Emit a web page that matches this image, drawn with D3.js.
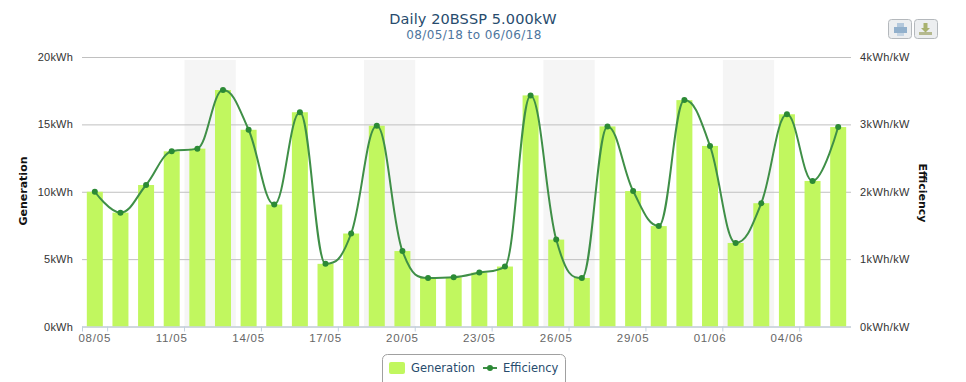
<!DOCTYPE html>
<html>
<head>
<meta charset="utf-8">
<script src="https://cdnjs.cloudflare.com/ajax/libs/d3/7.8.5/d3.min.js"></script>
<style>
  html, body { margin: 0; padding: 0; background: #fff; overflow: hidden; }
  svg { display: block; font-family: "DejaVu Sans", sans-serif; }
  .domain { display: none; }
</style>
</head>
<body>
<svg id="chart" width="966" height="382"></svg>
<script>
const categories = ["08/05","09/05","10/05","11/05","12/05","13/05","14/05","15/05","16/05","17/05",
  "18/05","19/05","20/05","21/05","22/05","23/05","24/05","25/05","26/05","27/05",
  "28/05","29/05","30/05","31/05","01/06","02/06","03/06","04/06","05/06","06/06"];
const generation = [10.0,8.45,10.5,13.0,13.2,17.55,14.6,9.05,15.9,4.65,
  6.9,14.9,5.6,3.6,3.65,4.0,4.45,17.15,6.45,3.6,
  14.85,10.05,7.45,16.8,13.4,6.2,9.15,15.75,10.8,14.8];
const efficiency = [2.0,1.69,2.1,2.6,2.64,3.51,2.92,1.81,3.18,0.93,
  1.38,2.98,1.12,0.72,0.73,0.8,0.89,3.43,1.29,0.72,
  2.97,2.01,1.49,3.36,2.68,1.24,1.83,3.15,2.16,2.96];
const weekendStarts = ["12/05","19/05","26/05","02/06"];
const genTicks = [0,5,10,15,20];
const effTicks = [0,1,2,3,4];

const plotLeft = 82, plotRight = 851, plotTop = 57, plotBottom = 326.5;
const titleColor = "#274b6d", subColor = "#4d759e";
const barColor = "#c1f75f", lineColor = "#3f8f47", markerColor = "#2b8a35";

const svg = d3.select("#chart");

const xScale = d3.scaleBand().domain(categories).range([plotLeft, plotRight]);
const yGen = d3.scaleLinear().domain([0, 20]).range([plotBottom, plotTop]);
const yEff = d3.scaleLinear().domain([0, 4]).range([plotBottom, plotTop]);
const cx = d => xScale(d) + xScale.bandwidth() / 2;

// weekend bands
svg.append("g").selectAll("rect").data(weekendStarts).join("rect")
  .attr("x", d => xScale(d))
  .attr("y", plotTop + 3)
  .attr("width", xScale.step() * 2)
  .attr("height", plotBottom - plotTop - 3)
  .attr("fill", "#f5f5f5");

// left axis + grid
const leftAxis = svg.append("g")
  .attr("transform", `translate(${plotLeft},0)`)
  .call(d3.axisLeft(yGen).tickValues(genTicks).tickSize(-(plotRight - plotLeft)).tickPadding(9).tickFormat(d => d + "kWh"));
leftAxis.selectAll("line").attr("stroke", "#c0c0c0");
leftAxis.selectAll("text").attr("font-size", 11).attr("letter-spacing", "0.2px").attr("fill", "#333");

// right axis
const rightAxis = svg.append("g")
  .attr("transform", `translate(${plotRight},0)`)
  .call(d3.axisRight(yEff).tickValues(effTicks).tickSize(0).tickPadding(9).tickFormat(d => d + "kWh/kW"));
rightAxis.selectAll("text").attr("font-size", 11).attr("letter-spacing", "0.4px").attr("fill", "#333");

// bars
svg.append("g").selectAll("rect").data(generation).join("rect")
  .attr("x", (d, i) => cx(categories[i]) - 8)
  .attr("y", d => yGen(d))
  .attr("width", 16)
  .attr("height", d => plotBottom - yGen(d))
  .attr("fill", barColor);

// x axis, ticks sit on the band edge, labels on the band centre
const xAxis = svg.append("g")
  .attr("transform", `translate(0,${plotBottom})`)
  .call(d3.axisBottom(xScale)
    .tickValues(categories.filter((d, i) => i % 3 === 0))
    .tickSize(5).tickPadding(2));
xAxis.selectAll("line").attr("stroke", "#c0d0e0").attr("x1", xScale.step() / 2).attr("x2", xScale.step() / 2);
xAxis.selectAll("text").attr("font-size", 11.5).attr("letter-spacing", "0.8px").attr("fill", "#666");
svg.append("line")
  .attr("x1", plotLeft).attr("x2", plotRight).attr("y1", plotBottom + 0.5).attr("y2", plotBottom + 0.5)
  .attr("stroke", "#c0d0e0");
svg.append("line")
  .attr("x1", plotLeft + 0.5).attr("x2", plotLeft + 0.5).attr("y1", plotBottom).attr("y2", plotBottom + 5)
  .attr("stroke", "#c0d0e0");

// highcharts style spline: control points clamped so peaks stay on the points
function splineCurve(context) {
  let pts = [];
  return {
    areaStart() {}, areaEnd() {},
    lineStart() { pts = []; },
    point(x, y) { pts.push([+x, +y]); },
    lineEnd() {
      const conts = pts.map((p, i) => {
        if (i === 0 || i === pts.length - 1) return { lx: p[0], ly: p[1], rx: p[0], ry: p[1] };
        const [x, y] = p, [px, py] = pts[i - 1], [nx, ny] = pts[i + 1];
        let ly = y - 0.2 * (ny - py), ry = y + 0.2 * (ny - py);
        if (ly > py && ly > y) { ly = Math.max(py, y); ry = 2 * y - ly; }
        else if (ly < py && ly < y) { ly = Math.min(py, y); ry = 2 * y - ly; }
        if (ry > ny && ry > y) { ry = Math.max(ny, y); ly = 2 * y - ry; }
        else if (ry < ny && ry < y) { ry = Math.min(ny, y); ly = 2 * y - ry; }
        return { lx: x - 0.4 * (x - px), ly, rx: x + 0.4 * (nx - x), ry };
      });
      pts.forEach((p, i) => {
        if (i === 0) context.moveTo(p[0], p[1]);
        else context.bezierCurveTo(conts[i - 1].rx, conts[i - 1].ry, conts[i].lx, conts[i].ly, p[0], p[1]);
      });
    }
  };
}

const line = d3.line()
  .x((d, i) => cx(categories[i]))
  .y(d => yEff(d))
  .curve(splineCurve);

svg.append("path")
  .datum(efficiency)
  .attr("d", line)
  .attr("fill", "none")
  .attr("stroke", lineColor)
  .attr("stroke-width", 2);

svg.append("g").selectAll("circle").data(efficiency).join("circle")
  .attr("cx", (d, i) => cx(categories[i]))
  .attr("cy", d => yEff(d))
  .attr("r", 3)
  .attr("fill", markerColor);

// titles
svg.append("text").text("Daily 20BSSP 5.000kW")
  .attr("x", 473).attr("y", 24).attr("text-anchor", "middle")
  .attr("font-size", 14.5).attr("letter-spacing", "0.1px").attr("fill", titleColor);
svg.append("text").text("08/05/18 to 06/06/18")
  .attr("x", 474).attr("y", 39).attr("text-anchor", "middle")
  .attr("font-size", 12).attr("letter-spacing", "0.4px").attr("fill", subColor);

svg.append("text").text("Generation")
  .attr("transform", "translate(27,191) rotate(270)")
  .attr("text-anchor", "middle").attr("font-size", 11).attr("font-weight", "bold").attr("fill", "#111");
svg.append("text").text("Efficiency")
  .attr("transform", "translate(919,193) rotate(90)")
  .attr("text-anchor", "middle").attr("font-size", 11).attr("font-weight", "bold").attr("fill", "#111");

// legend
const legend = svg.append("g");
legend.append("rect")
  .attr("x", 382.5).attr("y", 354.5).attr("width", 183).attr("height", 34).attr("rx", 5)
  .attr("fill", "#fff").attr("stroke", "#a0a0a0");
legend.append("rect")
  .attr("x", 389).attr("y", 362).attr("width", 16).attr("height", 12).attr("rx", 2).attr("fill", barColor);
legend.append("text").text("Generation")
  .attr("x", 411).attr("y", 372).attr("font-size", 11.5).attr("fill", titleColor);
legend.append("line")
  .attr("x1", 483).attr("x2", 497).attr("y1", 368).attr("y2", 368)
  .attr("stroke", lineColor).attr("stroke-width", 2);
legend.append("circle").attr("cx", 490).attr("cy", 368).attr("r", 3).attr("fill", markerColor);
legend.append("text").text("Efficiency")
  .attr("x", 503).attr("y", 372).attr("font-size", 11.5).attr("fill", titleColor);

// export buttons
const buttons = svg.append("g");
[888, 914].forEach(x => {
  buttons.append("rect")
    .attr("x", x + 0.5).attr("y", 19.5).attr("width", 23).attr("height", 19).attr("rx", 3)
    .attr("fill", "#eceef0").attr("stroke", "#b4b8bc");
});
// printer
buttons.append("rect").attr("x", 897).attr("y", 23).attr("width", 7).attr("height", 5).attr("fill", "#b3c8dc");
buttons.append("rect").attr("x", 894).attr("y", 27).attr("width", 13).attr("height", 6).attr("fill", "#92b0cc");
buttons.append("rect").attr("x", 897).attr("y", 33).attr("width", 7).attr("height", 3).attr("fill", "#c6d5e3");
// download
buttons.append("rect").attr("x", 919).attr("y", 32).attr("width", 13).attr("height", 3).attr("fill", "#b5b98f");
buttons.append("path").attr("d", "M923.5 23h4v5h2.5l-4.5 4.5l-4.5-4.5h2.5z").attr("fill", "#a9b26f");
</script>
</body>
</html>
